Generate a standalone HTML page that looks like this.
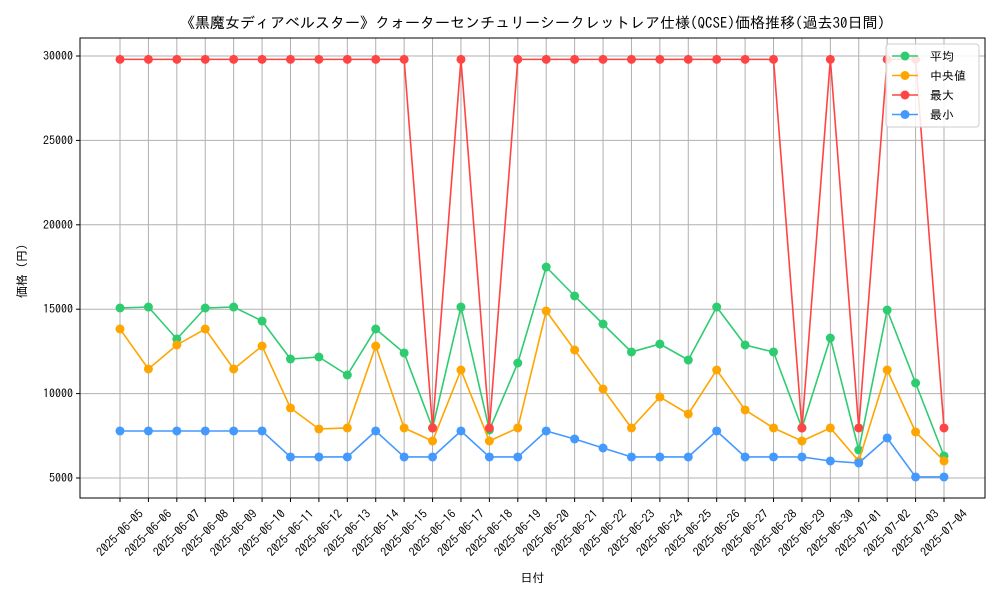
<!DOCTYPE html>
<html><head><meta charset="utf-8"><style>
body{margin:0;background:#fff;}
svg{font-family:"IPAGothic","Liberation Sans","Noto Sans CJK JP",sans-serif;}
</style></head><body>
<svg id="chart" width="1000" height="600" xmlns="http://www.w3.org/2000/svg"></svg>
<script>
const dates=["2025-06-05","2025-06-06","2025-06-07","2025-06-08","2025-06-09","2025-06-10","2025-06-11","2025-06-12","2025-06-13","2025-06-14","2025-06-15","2025-06-16","2025-06-17","2025-06-18","2025-06-19","2025-06-20","2025-06-21","2025-06-22","2025-06-23","2025-06-24","2025-06-25","2025-06-26","2025-06-27","2025-06-28","2025-06-29","2025-06-30","2025-07-01","2025-07-02","2025-07-03","2025-07-04"];
const avgValues=[15071,15130,13235,15071,15130,14300,12050,12168,11102,13827,12406,7963,15130,7844,11813,17500,15782,14123,12465,12938,11990,15130,12880,12465,7963,13294,6659,14952,10628,6304];
const medianValues=[13827,11458,12880,13827,11458,12820,9147,7904,7963,12820,7963,7192,11398,7192,7963,14893,12583,10273,7963,9799,8792,11398,9029,7963,7192,7963,6007,11398,7726,6007];
const maxValues=[29800,29800,29800,29800,29800,29800,29800,29800,29800,29800,29800,7963,29800,7963,29800,29800,29800,29800,29800,29800,29800,29800,29800,29800,7963,29800,7963,29800,29800,7963];
const minValues=[7785,7785,7785,7785,7785,7785,6245,6245,6245,7785,6245,6245,7785,6245,6245,7785,7311,6777,6245,6245,6245,7785,6245,6245,6245,6007,5889,7370,5060,5060];
const yTicks=[5000,10000,15000,20000,25000,30000];
const seriesNames=["平均","中央値","最大","最小"];
const seriesColors=["#2ecc71","#ffa500","#ff4444","#4499ff"];

const svg=document.getElementById('chart');
const NS='http://www.w3.org/2000/svg';
const L=80,R=985,T=38,B=498;
const xScale=i=>120+i*(944-120)/(dates.length-1);
const yScale=v=>56+(30000-v)*(478-56)/25000;
function mk(tag,attrs,parent){const e=document.createElementNS(NS,tag);for(const k in attrs)e.setAttribute(k,attrs[k]);(parent||svg).appendChild(e);return e;}

const title=mk('text',{x:(L+R)/2,y:28,'text-anchor':'middle','font-size':15});
title.textContent='《黒魔女ディアベルスター》クォーターセンチュリーシークレットレア仕様(QCSE)価格推移(過去30日間)';



const grid=mk('g',{});


dates.forEach((d,i)=>{
  const x=xScale(i);
  mk('line',{x1:x,x2:x,y1:T,y2:B,stroke:'#b0b0b0','stroke-width':1},grid);
  mk('line',{x1:x,x2:x,y1:B,y2:B+4,stroke:'#000'});
  const cy=533;
  const t=mk('text',{x:x,y:cy,'text-anchor':'middle','font-size':12,transform:`rotate(-45 ${x} ${cy})`,'dominant-baseline':'central'});
  t.textContent=d;
  
  
});
yTicks.forEach(v=>{
  const y=yScale(v);
  mk('line',{x1:L,x2:R,y1:y,y2:y,stroke:'#b0b0b0','stroke-width':1},grid);
  mk('line',{x1:L-4,x2:L,y1:y,y2:y,stroke:'#000'});
  const t=mk('text',{x:L-7,y:y+4,'text-anchor':'end','font-size':12});
  t.textContent=v;
  
  
});
const frame=mk('rect',{x:L,y:T,width:R-L,height:B-T,fill:'none',stroke:'#000','stroke-width':1});



const xl=mk('text',{x:(L+R)/2,y:582,'text-anchor':'middle','font-size':12});
xl.textContent='日付';


const yl=mk('text',{x:26,y:268,'text-anchor':'middle','font-size':12,transform:'rotate(-90 26 268)'});
yl.textContent='価格（円）';



const allSeries=[avgValues,medianValues,maxValues,minValues];
[0,1,2,3].forEach(s=>{
  const g=mk('g',{});
  
  
  const pts=allSeries[s].map((v,i)=>xScale(i)+','+yScale(v)).join(' ');
  mk('polyline',{points:pts,fill:'none',stroke:seriesColors[s],'stroke-width':1.6},g);
  allSeries[s].forEach((v,i)=>{
    const c=mk('circle',{cx:xScale(i),cy:yScale(v),r:4.5,fill:seriesColors[s]},g);
    
    
  });
});

const lg=mk('g',{});


mk('rect',{x:886,y:44,width:93,height:83,rx:3,fill:'#fff','fill-opacity':0.85,stroke:'#ccc'},lg);
seriesNames.forEach((n,i)=>{
  const y=56+i*19.5;
  const e=mk('g',{},lg);
  
  
  mk('line',{x1:892,x2:918,y1:y,y2:y,stroke:seriesColors[i],'stroke-width':1.6},e);
  mk('circle',{cx:905,cy:y,r:4.5,fill:seriesColors[i]},e);
  const t=mk('text',{x:930,y:y+4.5,'font-size':12},e);
  t.textContent=n;
});
</script>
</body></html>
